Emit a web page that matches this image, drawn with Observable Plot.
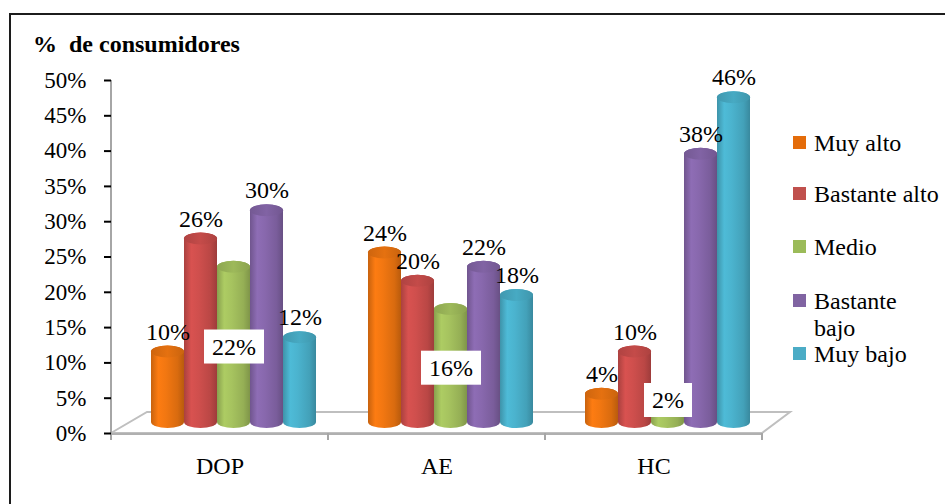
<!DOCTYPE html>
<html>
<head>
<meta charset="utf-8">
<script src="https://cdn.jsdelivr.net/npm/d3@7"></script>
<script src="https://cdn.jsdelivr.net/npm/@observablehq/plot@0.6"></script>
<style>
  html, body { margin: 0; padding: 0; background: #fff; }
  #wrap { position: relative; width: 945px; height: 504px; overflow: hidden; background: #fff;
          font-family: 'Liberation Serif', Tinos, 'Times New Roman', Times, 'DejaVu Serif', serif; color: #000; }
  #border { position: absolute; left: 9px; top: 13px; width: 1000px; height: 600px;
            border: 2px solid #1c1c1c; box-sizing: border-box; }
  #title { position: absolute; left: 33px; top: 32px; font-size: 24px; line-height: 24px;
           font-weight: bold; white-space: pre; }
  #chart { position: absolute; left: 0; top: 0; }
  #legend { position: absolute; left: 793px; top: 130px; font-size: 24px; line-height: 26.5px; }
  .item { display: flex; align-items: flex-start; }
  .item:nth-child(1) { margin-bottom: 24.5px; }
  .item:nth-child(2) { margin-bottom: 26.5px; }
  .item:nth-child(3) { margin-bottom: 27.5px; }
  .swatch { width: 13px; height: 13px; margin-top: 6px; flex: none; }
  .label { margin-left: 8px; width: 128px; }
  #chart svg, #chart text { font-family: 'Liberation Serif', Tinos, 'Times New Roman', Times, 'DejaVu Serif', serif; }
  #chart [aria-label="y-axis tick"] { stroke: #a6a6a6; stroke-width: 2px; }
  #chart [aria-label="y-axis tick label"] { font-size: 23px; }
</style>
</head>
<body>
<div id="wrap">
  <div id="border"></div>
  <div id="chart"></div>
  <div id="title">%  de consumidores</div>
  <div id="legend"></div>
</div>
<script>
// Groups along the x axis and the five rating levels
const categories = ["DOP", "AE", "HC"];
const series = ["Muy alto", "Bastante alto", "Medio", "Bastante bajo", "Muy bajo"];

// Share of consumers (%) per level, in the order of `categories`
const muyAlto      = [10, 24, 4];
const bastanteAlto = [26, 20, 10];
const medio        = [22, 16, 2];
const bastanteBajo = [30, 22, 38];
const muyBajo      = [12, 18, 46];
const seriesValues = [muyAlto, bastanteAlto, medio, bastanteBajo, muyBajo];

// Cylinder body colours and legend swatch colours
const seriesColors = ["#F27711", "#CF4F4D", "#A6C35F", "#8868AD", "#4BB3CE"];
const legendColors = ["#E46C0A", "#C0504D", "#9BBB59", "#8064A2", "#4BACC6"];

const yTicks = [0, 5, 10, 15, 20, 25, 30, 35, 40, 45, 50];

const rows = categories.flatMap((cat, ci) =>
  series.map((s, si) => ({cat, series: s, si, v: seriesValues[si][ci]}))
);

// 3D look: bars sit at mid depth of the floor
const depthDx = 14, depthDy = -11, capRy = 6, floorDepth = 21;
const serifStack = "'Liberation Serif', Tinos, 'Times New Roman', Times, 'DejaVu Serif', serif";

const chart = Plot.plot({
  width: 945,
  height: 504,
  marginLeft: 110,
  marginRight: 183,
  marginTop: 80,
  marginBottom: 71,
  style: {fontFamily: serifStack, fontSize: "24px", color: "#000", background: "transparent", overflow: "visible"},
  fx: {domain: categories, padding: 0, label: null, tickSize: 0, tickPadding: 23, axis: "bottom"},
  x: {domain: series, paddingInner: 0, paddingOuter: 0.71, axis: null},
  y: {domain: [0, 50], ticks: yTicks, tickFormat: d => d + "%", tickSize: 7, tickPadding: 18, label: null},
  color: {type: "identity"},
  marks: [
    // cylinder bodies
    Plot.barY(rows, {
      fx: "cat", x: "series", y1: 0, y2: "v",
      insetTop: -capRy, insetBottom: -capRy, rx: 60, ry: capRy,
      dx: depthDx, dy: depthDy,
      fill: d => `url(#body-${d.si})`
    }),
    // cylinder tops
    Plot.barY(rows, {
      fx: "cat", x: "series", y1: "v", y2: "v",
      insetTop: -capRy, insetBottom: -capRy, rx: 60, ry: capRy,
      dx: depthDx, dy: depthDy,
      fill: d => `url(#cap-${d.si})`
    }),
    // value labels above the bars
    Plot.text(rows.filter(d => d.si !== 2), {
      fx: "cat", x: "series", y: "v", text: d => d.v + "%",
      dx: depthDx, dy: depthDy - 20, fill: "#000", fontSize: 24
    }),
    // "Medio" labels in a white box at mid height
    Plot.text(rows.filter(d => d.si === 2), {
      fx: "cat", x: "series", y: d => d.v / 2, text: d => d.v + "%",
      dx: depthDx, dy: -9, fill: "#000", fontSize: 24, ariaLabel: () => "medio-label"
    })
  ]
});

document.getElementById("chart").append(chart);

const svgNode = chart.tagName.toLowerCase() === "svg" ? chart : chart.querySelector("svg");
const svg = d3.select(svgNode);

// gradients giving the cylinders their shading
const defs = svg.insert("defs", ":first-child");
seriesColors.forEach((c, i) => {
  const base = d3.color(c);
  const body = defs.append("linearGradient").attr("id", `body-${i}`)
    .attr("x1", 0).attr("x2", 1).attr("y1", 0).attr("y2", 0);
  [[0, base.darker(0.55)], [0.22, base.brighter(0.12)], [0.45, base], [0.8, base.darker(0.3)], [1, base.darker(0.75)]]
    .forEach(([o, col]) => body.append("stop").attr("offset", o).attr("stop-color", col.formatHex()));
  const cap = defs.append("linearGradient").attr("id", `cap-${i}`)
    .attr("x1", 0).attr("x2", 1).attr("y1", 0).attr("y2", 0);
  [[0, base.darker(0.45)], [0.5, base.darker(0.15)], [1, base.darker(0.5)]]
    .forEach(([o, col]) => cap.append("stop").attr("offset", o).attr("stop-color", col.formatHex()));
});

// floor, value axis line and category boundary ticks, from the plot's scales
const sy = chart.scale("y");
const sfx = chart.scale("fx");
const y0 = sy.apply(0), yTop = sy.apply(50);
const xl = sfx.apply(categories[0]);
const xr = sfx.apply(categories[categories.length - 1]) + sfx.bandwidth;
const floor = svg.insert("g", "g").attr("fill", "none").attr("stroke", "#bfbfbf").attr("stroke-width", 2);
floor.append("path")
  .attr("fill", "#fff")
  .attr("d", `M${xl},${y0}L${xl + 36},${y0 - floorDepth}L${xr + 28},${y0 - floorDepth}L${xr},${y0}Z`);
floor.append("line").attr("x1", xl).attr("x2", xl).attr("y1", yTop).attr("y2", y0 + 5).attr("stroke", "#a6a6a6");
floor.append("line").attr("x1", xl).attr("x2", xr).attr("y1", y0 + 1).attr("y2", y0 + 1).attr("stroke", "#b0b0b0");
categories.concat([null]).forEach(c => {
  const x = c ? sfx.apply(c) : xr;
  floor.append("line").attr("x1", x).attr("x2", x).attr("y1", y0).attr("y2", y0 + 7).attr("stroke", "#a6a6a6");
});

// white boxes behind the "Medio" labels; a box never drops below the back of the floor
const svgTop = svgNode.getBoundingClientRect().top;
const boxLimit = y0 - floorDepth + 5;
svg.selectAll('text[aria-label="medio-label"]').each(function() {
  const b = this.getBBox();
  const padX = 8, padY = 4;
  const bottom = this.getBoundingClientRect().bottom - svgTop + padY;
  const lift = Math.max(0, bottom - boxLimit);
  const r = document.createElementNS("http://www.w3.org/2000/svg", "rect");
  r.setAttribute("x", b.x - padX);
  r.setAttribute("y", b.y - padY);
  r.setAttribute("width", b.width + 2 * padX);
  r.setAttribute("height", b.height + 2 * padY);
  r.setAttribute("fill", "#fff");
  const t = (this.getAttribute("transform") || "") + (lift ? ` translate(0,${-lift})` : "");
  if (t) { r.setAttribute("transform", t); this.setAttribute("transform", t); }
  this.parentNode.insertBefore(r, this);
});

// legend
const legend = d3.select("#legend");
series.forEach((s, i) => {
  const item = legend.append("div").attr("class", "item");
  item.append("div").attr("class", "swatch").style("background", legendColors[i]);
  item.append("div").attr("class", "label").text(s);
});
</script>
</body>
</html>
